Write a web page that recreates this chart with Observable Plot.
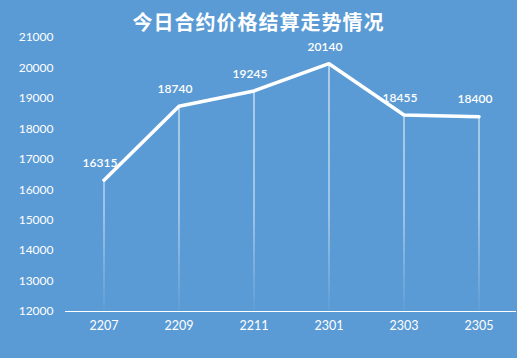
<!DOCTYPE html>
<html><head><meta charset="utf-8">
<script src="https://cdn.jsdelivr.net/npm/d3@7"></script>
<script src="https://cdn.jsdelivr.net/npm/@observablehq/plot@0.6"></script>
<style>
html,body{margin:0;padding:0;background:#5b9bd5;}
#wrap{width:517px;height:358px;background:#5b9bd5;overflow:hidden;}
#title{height:30px;line-height:44px;text-align:center;color:#fff;font-family:"Noto Sans CJK SC",sans-serif;font-weight:700;font-size:20px;letter-spacing:1px;}
</style></head>
<body><div id="wrap"><div id="title">今日合约价格结算走势情况</div><div id="chart"></div></div>
<script>
const contracts = ["2207","2209","2211","2301","2303","2305"];
const prices = [16315, 18740, 19245, 20140, 18455, 18400];
const yTicks = [12000,13000,14000,15000,16000,17000,18000,19000,20000,21000];
const data = contracts.map((c,i)=>({c, v: prices[i]}));

const chart = Plot.plot({
  width: 517, height: 328,
  marginTop: 7, marginBottom: 47, marginLeft: 65, marginRight: 1,
  style: {background: "transparent", color: "#fff", fontFamily: "Lato, 'Open Sans', sans-serif", fontSize: "12px"},
  x: {type: "band", domain: contracts, padding: 0, label: null},
  y: {domain: [12000, 21000], ticks: yTicks, label: null},
  marks: [
    () => {
      const svg = d3.create("svg:defs");
      const g = svg.append("linearGradient").attr("id","fade").attr("gradientUnits","userSpaceOnUse")
        .attr("x1",0).attr("x2",0).attr("y1",40).attr("y2",281);
      g.append("stop").attr("offset","0%").attr("stop-color","#fff").attr("stop-opacity",1);
      g.append("stop").attr("offset","60%").attr("stop-color","#fff").attr("stop-opacity",0.8);
      g.append("stop").attr("offset","100%").attr("stop-color","#fff").attr("stop-opacity",0.05);
      return svg.node();
    },
    Plot.axisY({ticks: yTicks, tickSize: 0, tickPadding: 12, tickFormat: d => String(d), fill: "#fff", fontSize: 12}),
    Plot.axisX({tickSize: 0, tickPadding: 10, fill: "#fff", fontSize: 12.5}),
    Plot.ruleX(data, {x: "c", y1: "v", y2: 12000, stroke: "url(#fade)", strokeWidth: 1}),
    Plot.ruleY([12000], {stroke: "#fff", strokeWidth: 1.2}),
    Plot.line(data, {x: "c", y: "v", stroke: "#fff", strokeWidth: 3.5, strokeLinejoin: "miter"}),
    Plot.text(data, {x: "c", y: "v", text: d => String(d.v), dy: -17, dx: -4, fill: "#fff", fontWeight: 600, fontSize: 12})
  ]
});
document.getElementById("chart").appendChild(chart);
</script></body></html>
